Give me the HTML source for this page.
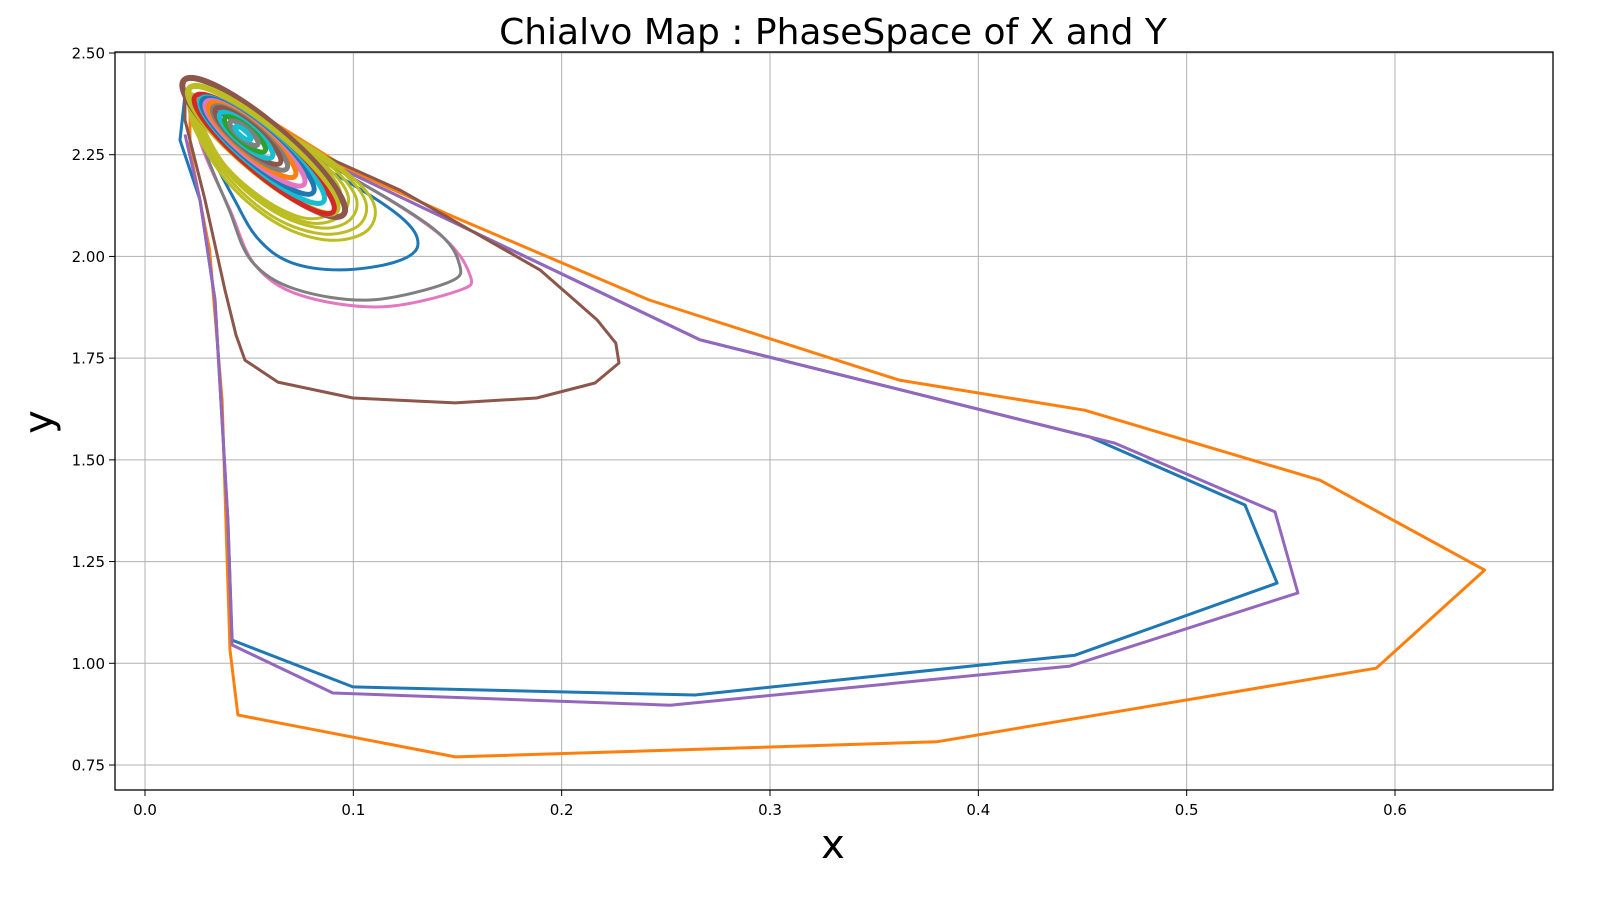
<!DOCTYPE html>
<html><head><meta charset="utf-8"><style>
body{margin:0;background:#fff;}
svg text{font-family:"DejaVu Sans","Liberation Sans",sans-serif;}
</style></head><body>
<svg id="chart" width="1600" height="900" viewBox="0 0 1600 900" xmlns="http://www.w3.org/2000/svg">
<text x="833" y="44" font-size="36" text-anchor="middle" fill="#000">Chialvo Map : PhaseSpace of X and Y</text>
<text x="833" y="858" font-size="40" text-anchor="middle" fill="#000">x</text>
<text x="52" y="422" font-size="40" text-anchor="middle" fill="#000" transform="rotate(-90 52 422)">y</text>
<g id="grid"></g>
<g id="series"></g>
<rect x="115" y="52" width="1438" height="738" fill="none" stroke="#000" stroke-width="1.3"/>
<g id="ticks"></g>
</svg>
<script>
const xTicks=[0.0,0.1,0.2,0.3,0.4,0.5,0.6];
const xTickLabels=["0.0","0.1","0.2","0.3","0.4","0.5","0.6"];
const yTicks=[0.75,1.0,1.25,1.5,1.75,2.0,2.25,2.5];
const yTickLabels=["0.75","1.00","1.25","1.50","1.75","2.00","2.25","2.50"];
const orangeOuter=[[0.0216,2.416],[0.035,2.415],[0.0984,2.212],[0.146,2.102],[0.242,1.893],[0.362,1.696],[0.451,1.622],[0.564,1.450],[0.643,1.229],[0.591,0.988],[0.380,0.807],[0.149,0.770],[0.0446,0.873],[0.0408,1.033],[0.037,1.647],[0.031,2.016],[0.0216,2.262],[0.0216,2.416]];
const blueBig=[[0.0192,2.397],[0.0984,2.205],[0.2664,1.795],[0.4536,1.556],[0.528,1.389],[0.5434,1.197],[0.4464,1.020],[0.264,0.922],[0.0998,0.942],[0.0418,1.057],[0.0398,1.352],[0.0336,1.893],[0.0264,2.139],[0.0168,2.286],[0.0192,2.397]];
const purpleBig=[[0.0192,2.397],[0.0984,2.205],[0.2664,1.795],[0.4656,1.541],[0.5424,1.372],[0.5534,1.173],[0.444,0.993],[0.252,0.897],[0.0902,0.927],[0.0418,1.045],[0.0398,1.352],[0.0336,1.893],[0.0264,2.139],[0.0192,2.30]];
const brownLoop=[[0.0192,2.40],[0.1224,2.163],[0.1896,1.967],[0.217,1.844],[0.226,1.787],[0.2275,1.738],[0.216,1.689],[0.188,1.652],[0.1488,1.640],[0.0998,1.652],[0.0638,1.691],[0.048,1.745],[0.0437,1.807],[0.0384,1.917],[0.0288,2.139],[0.0192,2.335],[0.0192,2.40]];
const pinkLoop=[[0.02,2.40],[0.09,2.22],[0.14,2.06],[0.156,1.954],[0.150,1.915],[0.1128,1.876],[0.0744,1.905],[0.0528,1.979],[0.0408,2.114],[0.028,2.26],[0.02,2.40]];
const grayLoop=[[0.021,2.40],[0.09,2.22],[0.138,2.07],[0.151,1.979],[0.145,1.935],[0.108,1.893],[0.072,1.92],[0.051,1.99],[0.040,2.12],[0.028,2.27],[0.021,2.40]];
const blueInnerLoop=[[0.021,2.39],[0.085,2.22],[0.122,2.10],[0.131,2.028],[0.12,1.986],[0.0936,1.967],[0.0696,1.986],[0.054,2.045],[0.043,2.139],[0.030,2.27],[0.021,2.39]];
const olive1=[[0.0202,2.404],[0.0552,2.335],[0.0888,2.237],[0.109,2.139],[0.107,2.065],[0.0888,2.040],[0.0648,2.077],[0.0408,2.176],[0.024,2.311],[0.0202,2.404]];
const olive2=[[0.021,2.40],[0.055,2.332],[0.087,2.24],[0.105,2.146],[0.103,2.078],[0.086,2.055],[0.063,2.093],[0.0408,2.188],[0.025,2.315],[0.021,2.40]];
const olive3=[[0.022,2.40],[0.055,2.33],[0.085,2.24],[0.1008,2.151],[0.0984,2.090],[0.084,2.070],[0.0624,2.109],[0.0408,2.200],[0.026,2.32],[0.022,2.40]];
const olive4=[[0.023,2.398],[0.055,2.328],[0.083,2.238],[0.097,2.157],[0.094,2.10],[0.080,2.082],[0.060,2.124],[0.039,2.212],[0.026,2.325],[0.023,2.398]];
const olive5=[[0.024,2.395],[0.055,2.325],[0.082,2.235],[0.0936,2.163],[0.090,2.109],[0.0768,2.094],[0.0576,2.139],[0.0384,2.225],[0.027,2.33],[0.024,2.395]];

const clusterCx=[0.057,0.0565,0.0572,0.0562,0.0542,0.0528,0.0514,0.0504,0.0494,0.0485,0.048,0.0475,0.047];
const clusterCy=[2.268,2.262,2.252,2.261,2.271,2.278,2.286,2.291,2.296,2.298,2.30,2.303,2.303];
const clusterA=[0.050,0.046,0.0432,0.0384,0.0346,0.0307,0.0269,0.0230,0.0202,0.0163,0.0125,0.0086,0.0048];
const clusterB=[0.085,0.078,0.069,0.064,0.059,0.054,0.049,0.044,0.039,0.034,0.027,0.020,0.012];
const clusterColors=["#8c564b","#bcbd22","#d62728","#17becf","#1f77b4","#e377c2","#ff7f0e","#7f7f7f","#8c564b","#17becf","#2ca02c","#7f7f7f","#17becf"];

const seriesList=[
 ["orange-outer-loop",orangeOuter,"#ff7f0e",0],
 ["blue-big-loop",blueBig,"#1f77b4",0],
 ["purple-big-loop",purpleBig,"#9467bd",0],
 ["brown-loop",brownLoop,"#8c564b",0],
 ["pink-loop",pinkLoop,"#e377c2",1],
 ["gray-loop",grayLoop,"#7f7f7f",1],
 ["blue-inner-loop",blueInnerLoop,"#1f77b4",1],
 ["olive-loop-1",olive1,"#bcbd22",1],
 ["olive-loop-2",olive2,"#bcbd22",1],
 ["olive-loop-3",olive3,"#bcbd22",1],
 ["olive-loop-4",olive4,"#bcbd22",1],
 ["olive-loop-5",olive5,"#bcbd22",1]
];
const NS="http://www.w3.org/2000/svg";
function sx(v){return 145+v*2083.33;}
function sy(v){return 53+(2.5-v)*406.86;}
const grid=document.getElementById('grid'),ticks=document.getElementById('ticks'),ser=document.getElementById('series');
xTicks.forEach((t,i)=>{
 const x=sx(t);
 const g=document.createElementNS(NS,'line');
 
 
 g.setAttribute('x1',x);g.setAttribute('x2',x);g.setAttribute('y1',52);g.setAttribute('y2',790);
 g.setAttribute('stroke','#b0b0b0');g.setAttribute('stroke-width','1');grid.appendChild(g);
 const tk=document.createElementNS(NS,'line');
 
 
 tk.setAttribute('x1',x);tk.setAttribute('x2',x);tk.setAttribute('y1',790);tk.setAttribute('y2',796);
 tk.setAttribute('stroke','#000');ticks.appendChild(tk);
 const tx=document.createElementNS(NS,'text');
 
 
 tx.setAttribute('x',x);tx.setAttribute('y',815);tx.setAttribute('font-size','15');tx.setAttribute('text-anchor','middle');
 tx.textContent=xTickLabels[i];ticks.appendChild(tx);
});
yTicks.forEach((t,i)=>{
 const y=sy(t);
 const g=document.createElementNS(NS,'line');
 
 
 g.setAttribute('x1',115);g.setAttribute('x2',1553);g.setAttribute('y1',y);g.setAttribute('y2',y);
 g.setAttribute('stroke','#b0b0b0');g.setAttribute('stroke-width','1');grid.appendChild(g);
 const tk=document.createElementNS(NS,'line');
 
 
 tk.setAttribute('x1',109);tk.setAttribute('x2',115);tk.setAttribute('y1',y);tk.setAttribute('y2',y);
 tk.setAttribute('stroke','#000');ticks.appendChild(tk);
 const tx=document.createElementNS(NS,'text');
 
 
 tx.setAttribute('x',105);tx.setAttribute('y',y+5.5);tx.setAttribute('font-size','15');tx.setAttribute('text-anchor','end');
 tx.textContent=yTickLabels[i];ticks.appendChild(tx);
});
function smoothPath(pts){
 let d='M'+pts[0][0].toFixed(1)+','+pts[0][1].toFixed(1);
 for(let i=0;i<pts.length-1;i++){
  const p0=pts[Math.max(0,i-1)],p1=pts[i],p2=pts[i+1],p3=pts[Math.min(pts.length-1,i+2)];
  const c1=[p1[0]+(p2[0]-p0[0])/6,p1[1]+(p2[1]-p0[1])/6];
  const c2=[p2[0]-(p3[0]-p1[0])/6,p2[1]-(p3[1]-p1[1])/6];
  d+=' C'+c1[0].toFixed(1)+','+c1[1].toFixed(1)+' '+c2[0].toFixed(1)+','+c2[1].toFixed(1)+' '+p2[0].toFixed(1)+','+p2[1].toFixed(1);
 }
 return d;
}
seriesList.forEach(s=>{
 const pts=s[1].map(d=>[sx(d[0]),sy(d[1])]);
 const p=document.createElementNS(NS,'path');
 
 
 if(s[3]){p.setAttribute('d',smoothPath(pts));}
 else{p.setAttribute('d','M'+pts.map(q=>q[0].toFixed(1)+','+q[1].toFixed(1)).join(' L'));}
 p.setAttribute('fill','none');p.setAttribute('stroke',s[2]);p.setAttribute('stroke-width','3');
 p.setAttribute('stroke-linejoin','round');
 ser.appendChild(p);
});
clusterCx.forEach((cx,i)=>{
 const e=document.createElementNS(NS,'ellipse');
 
 
 const px=sx(cx),py=sy(clusterCy[i]);
 e.setAttribute('cx',px.toFixed(1));e.setAttribute('cy',py.toFixed(1));
 e.setAttribute('rx',(clusterA[i]*2083.33).toFixed(1));e.setAttribute('ry',(clusterB[i]*406.86*0.7).toFixed(1));
 e.setAttribute('transform','rotate(40 '+px.toFixed(1)+' '+py.toFixed(1)+')');
 e.setAttribute('fill','none');e.setAttribute('stroke',clusterColors[i]);e.setAttribute('stroke-width',i<2?'6':'5');
 ser.appendChild(e);
});
</script>
</body></html>
